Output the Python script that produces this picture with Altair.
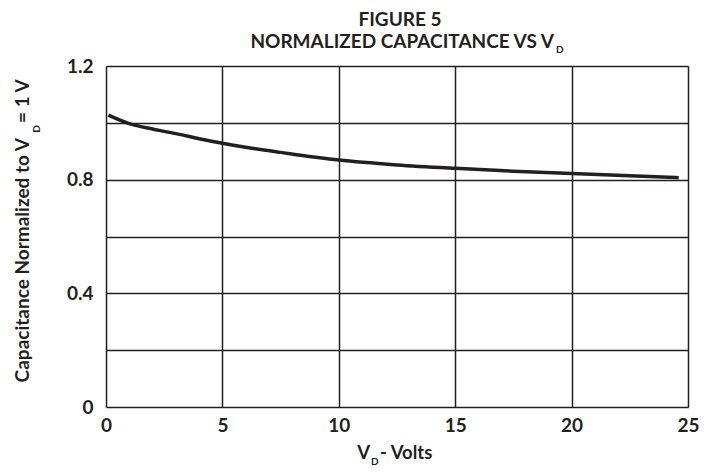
import altair as alt
import pandas as pd

# Data
volts = [0.1, 1.0, 2.0, 2.5, 3.0, 4.0, 5.0, 6.0, 7.5, 10.0, 12.5, 15.0, 17.5, 20.0, 22.5, 24.6]
cap_norm = [1.027, 0.997, 0.978, 0.970, 0.962, 0.944, 0.928, 0.914, 0.896, 0.869, 0.852, 0.840, 0.830, 0.822, 0.814, 0.807]

x_ticks = [0, 5, 10, 15, 20, 25]
y_ticks = [0, 0.2, 0.4, 0.6, 0.8, 1.0, 1.2]

df = pd.DataFrame({"V": volts, "C": cap_norm})

FONT = "Lato"
INK = "#231f20"
W, H = 582, 341

line = alt.Chart(df).mark_line(color=INK, strokeWidth=3.5, interpolate="monotone").encode(
    x=alt.X("V:Q", scale=alt.Scale(domain=[0, 25], nice=False),
            axis=alt.Axis(values=x_ticks, title=None, grid=True, gridColor=INK, gridWidth=1.5,
                          gridOpacity=1, domain=False, ticks=False, labelFont=FONT,
                          labelFontWeight="bold", labelFontSize=19, labelColor=INK,
                          labelPadding=9, labelFlush=False)),
    y=alt.Y("C:Q", scale=alt.Scale(domain=[0, 1.2], nice=False),
            axis=alt.Axis(values=y_ticks, title=None, grid=True, gridColor=INK, gridWidth=1.5,
                          gridOpacity=1, domain=False, ticks=False, labelFont=FONT,
                          labelFontWeight="bold", labelFontSize=19, labelColor=INK,
                          labelPadding=13, labelFlush=False,
                          labelExpr="abs(datum.value) < 1e-9 ? '0' : (abs(datum.value-0.4)<1e-9 || abs(datum.value-0.8)<1e-9 || abs(datum.value-1.2)<1e-9 ? format(datum.value, '.1f') : '')")),
)

one = alt.Data(values=[{"k": 1}])


def label(text, x, y, size=16, align="center", angle=0):
    return alt.Chart(one).mark_text(
        text=text, font=FONT, fontWeight="bold", fontSize=size, color=INK,
        align=align, baseline="middle", angle=angle,
    ).encode(x=alt.value(x), y=alt.value(y))


texts = [
    label("FIGURE 5", 294, -46, size=19),
    label("NORMALIZED CAPACITANCE VS V", 448, -24, size=19, align="right"),
    label("D", 450, -16, size=10, align="left"),
    label("V", 264, 387, size=18.5, align="right"),
    label("D", 265, 396, size=10, align="left"),
    label("- Volts", 274, 387, size=18.5, align="left"),
    label("Capacitance Normalized to V", -83, 72, size=19, angle=270, align="right"),
    label("D", -69, 63, size=10, angle=270, align="center"),
    label("= 1 V", -83, 57, size=19, angle=270, align="left"),
]

chart = alt.layer(line, *texts).properties(
    width=W, height=H,
    autosize=alt.AutoSizeParams(type="none"),
    padding={"left": 98, "top": 58, "right": 16, "bottom": 62},
).configure_view(stroke=INK, strokeWidth=3.5).configure(background="white")

chart.save("out.html", embed_options={"renderer": "svg", "actions": False})
